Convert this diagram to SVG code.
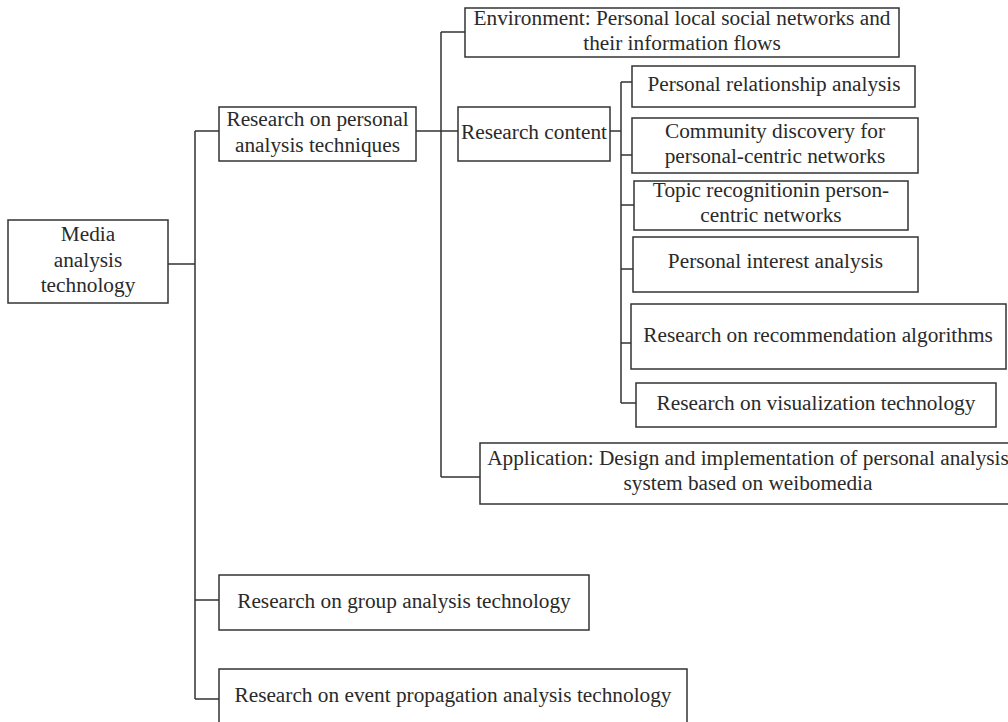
<svg xmlns="http://www.w3.org/2000/svg" width="1008" height="722" viewBox="0 0 1008 722">
<style>
.box{fill:#fff;stroke:#333;stroke-width:1.5}
.con{fill:none;stroke:#333;stroke-width:1.5}
text{font-family:"Liberation Serif","Times New Roman",serif;font-size:21.3px;fill:#2a2a2a;text-anchor:middle}
</style>
<rect width="1008" height="722" fill="#fff"/>
<g id="connectors">
<path class="con" d="M168,264H195M195,131V699M195,131H219M195,600H219M195,699H219"/>
<path class="con" d="M416,131H458M441,32V477M441,32H465M441,477H480"/>
<path class="con" d="M610,131H621M621,82V403M621,82H632M621,155H632M621,205H634M621,269H633M621,343H631M621,403H636"/>
</g>
<g id="n-media"><rect class="box" x="8" y="220" width="160" height="83"/><text x="88" y="241">Media</text><text x="88" y="267">analysis</text><text x="88" y="292">technology</text></g>
<g id="n-personal"><rect class="box" x="219" y="107" width="197" height="54"/><text x="317.5" y="126">Research on personal</text><text x="317.5" y="152">analysis techniques</text></g>
<g id="n-env"><rect class="box" x="465" y="8" width="434" height="49"/><text x="682" y="25">Environment: Personal local social networks and</text><text x="682" y="50">their information flows</text></g>
<g id="n-content"><rect class="box" x="458" y="107" width="152" height="54"/><text x="534" y="139">Research content</text></g>
<g id="n-rel"><rect class="box" x="632" y="66" width="283" height="41"/><text x="774" y="91">Personal relationship analysis</text></g>
<g id="n-comm"><rect class="box" x="632" y="118" width="286" height="55"/><text x="775" y="138">Community discovery for</text><text x="775" y="163">personal-centric networks</text></g>
<g id="n-topic"><rect class="box" x="634" y="181" width="274" height="49"/><text x="771" y="197">Topic recognitionin person-</text><text x="771" y="222">centric networks</text></g>
<g id="n-interest"><rect class="box" x="633" y="237" width="285" height="55"/><text x="775.5" y="268">Personal interest analysis</text></g>
<g id="n-rec"><rect class="box" x="631" y="304" width="375" height="65"/><text x="818" y="342">Research on recommendation algorithms</text></g>
<g id="n-vis"><rect class="box" x="636" y="383" width="360" height="44"/><text x="816" y="410">Research on visualization technology</text></g>
<g id="n-app"><rect class="box" x="480" y="443" width="536" height="61"/><text x="748" y="465">Application: Design and implementation of personal analysis</text><text x="748" y="490">system based on weibomedia</text></g>
<g id="n-group"><rect class="box" x="219" y="575" width="370" height="55"/><text x="404" y="608">Research on group analysis technology</text></g>
<g id="n-event"><rect class="box" x="219" y="669" width="468" height="60"/><text x="453" y="702">Research on event propagation analysis technology</text></g>
</svg>
